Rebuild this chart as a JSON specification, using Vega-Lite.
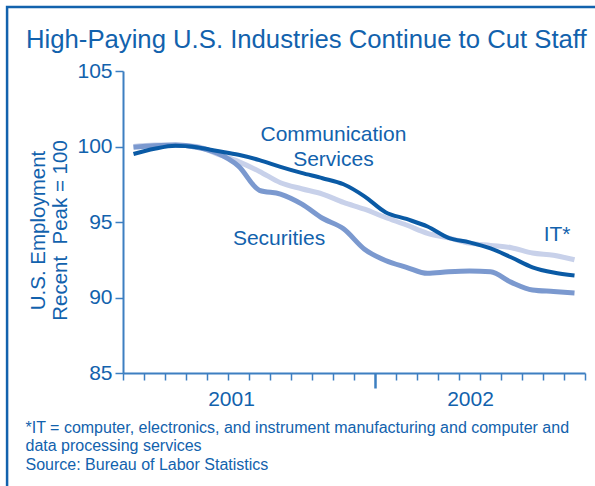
{
  "$schema": "https://vega.github.io/schema/vega-lite/v6.json",
  "width": 462,
  "height": 302,
  "autosize": {"type": "none"},
  "padding": {"left": 123, "top": 71, "right": 10, "bottom": 113},
  "background": "white",
  "config": {"view": {"stroke": null}, "font": "Liberation Sans"},
  "title": {
    "text": "High-Paying U.S. Industries Continue to Cut Staff",
    "anchor": "start",
    "frame": "group",
    "dx": -97,
    "dy": 52,
    "fontSize": 25.7,
    "fontWeight": "normal",
    "font": "Liberation Sans",
    "color": "#1262ad"
  },
  "datasets": {
    "employment": [
      {"month": 1, "series": "IT", "value": 100.0},
      {"month": 2, "series": "IT", "value": 100.1},
      {"month": 3, "series": "IT", "value": 100.1},
      {"month": 4, "series": "IT", "value": 100.0},
      {"month": 5, "series": "IT", "value": 99.5},
      {"month": 6, "series": "IT", "value": 99.0},
      {"month": 7, "series": "IT", "value": 98.35},
      {"month": 8, "series": "IT", "value": 97.6},
      {"month": 9, "series": "IT", "value": 97.2},
      {"month": 10, "series": "IT", "value": 96.85},
      {"month": 11, "series": "IT", "value": 96.3},
      {"month": 12, "series": "IT", "value": 95.85},
      {"month": 13, "series": "IT", "value": 95.3},
      {"month": 14, "series": "IT", "value": 94.8},
      {"month": 15, "series": "IT", "value": 94.25},
      {"month": 16, "series": "IT", "value": 93.95},
      {"month": 17, "series": "IT", "value": 93.6},
      {"month": 18, "series": "IT", "value": 93.45},
      {"month": 19, "series": "IT", "value": 93.3},
      {"month": 20, "series": "IT", "value": 92.95},
      {"month": 21, "series": "IT", "value": 92.8},
      {"month": 22, "series": "IT", "value": 92.5},
      {"month": 1, "series": "Securities", "value": 99.95},
      {"month": 2, "series": "Securities", "value": 100.05},
      {"month": 3, "series": "Securities", "value": 100.1},
      {"month": 4, "series": "Securities", "value": 99.95},
      {"month": 5, "series": "Securities", "value": 99.55},
      {"month": 6, "series": "Securities", "value": 98.7},
      {"month": 7, "series": "Securities", "value": 97.1},
      {"month": 8, "series": "Securities", "value": 96.85},
      {"month": 9, "series": "Securities", "value": 96.2},
      {"month": 10, "series": "Securities", "value": 95.25},
      {"month": 11, "series": "Securities", "value": 94.55},
      {"month": 12, "series": "Securities", "value": 93.2},
      {"month": 13, "series": "Securities", "value": 92.45},
      {"month": 14, "series": "Securities", "value": 92.0},
      {"month": 15, "series": "Securities", "value": 91.6},
      {"month": 16, "series": "Securities", "value": 91.7},
      {"month": 17, "series": "Securities", "value": 91.75},
      {"month": 18, "series": "Securities", "value": 91.7},
      {"month": 19, "series": "Securities", "value": 91.0},
      {"month": 20, "series": "Securities", "value": 90.5},
      {"month": 21, "series": "Securities", "value": 90.4},
      {"month": 22, "series": "Securities", "value": 90.3},
      {"month": 1, "series": "Communication Services", "value": 99.5},
      {"month": 2, "series": "Communication Services", "value": 99.85},
      {"month": 3, "series": "Communication Services", "value": 100.05},
      {"month": 4, "series": "Communication Services", "value": 99.95},
      {"month": 5, "series": "Communication Services", "value": 99.7},
      {"month": 6, "series": "Communication Services", "value": 99.45},
      {"month": 7, "series": "Communication Services", "value": 99.1},
      {"month": 8, "series": "Communication Services", "value": 98.65},
      {"month": 9, "series": "Communication Services", "value": 98.25},
      {"month": 10, "series": "Communication Services", "value": 97.9},
      {"month": 11, "series": "Communication Services", "value": 97.5},
      {"month": 12, "series": "Communication Services", "value": 96.7},
      {"month": 13, "series": "Communication Services", "value": 95.65},
      {"month": 14, "series": "Communication Services", "value": 95.2},
      {"month": 15, "series": "Communication Services", "value": 94.7},
      {"month": 16, "series": "Communication Services", "value": 93.95},
      {"month": 17, "series": "Communication Services", "value": 93.65},
      {"month": 18, "series": "Communication Services", "value": 93.25},
      {"month": 19, "series": "Communication Services", "value": 92.65},
      {"month": 20, "series": "Communication Services", "value": 92.0},
      {"month": 21, "series": "Communication Services", "value": 91.65},
      {"month": 22, "series": "Communication Services", "value": 91.45}
    ],
    "labels": [
      {"label": "Communication", "month": 10.52, "value": 100.73},
      {"label": "Services", "month": 10.52, "value": 99.11},
      {"label": "Securities", "month": 7.93, "value": 93.87},
      {"label": "IT*", "month": 21.17, "value": 94.14}
    ]
  },
  "layer": [
    {
      "data": {"name": "employment"},
      "transform": [{"filter": "datum.series == 'IT'"}],
      "mark": {"type": "line", "interpolate": "monotone", "color": "#c8d1ea", "strokeWidth": 5},
      "encoding": {
        "x": {
          "field": "month",
          "type": "quantitative",
          "scale": {"domain": [0.5, 22.5], "nice": false, "zero": false},
          "axis": {
            "values": [0.5, 1.5, 2.5, 3.5, 4.5, 5.5, 6.5, 7.5, 8.5, 9.5, 10.5, 11.5, 12.5, 13.5, 14.5, 15.5, 16.5, 17.5, 18.5, 19.5, 20.5, 21.5, 22.5],
            "tickCount": 40,
            "labelExpr": "datum.value == 6.5 ? '2001' : (datum.value == 17.5 ? '2002' : '')",
            "labelOffset": {"condition": {"test": "datum.value == 6.5", "value": -18}, "value": -10},
            "labelFontSize": 21,
            "labelColor": "#1262ad",
            "labelPadding": 8,
            "labelFlush": false,
            "labelOverlap": false,
            "labelBound": false,
            "grid": false,
            "domainColor": "#3d7fc1",
            "domainWidth": 2,
            "tickColor": "#3d7fc1",
            "tickSize": {"condition": {"test": "datum.value == 12.5", "value": 15}, "value": 7},
            "tickWidth": {"condition": {"test": "datum.value == 12.5", "value": 2.5}, "value": 1.5},
            "title": ["*IT = computer, electronics, and instrument manufacturing and computer and", "data processing services", "Source: Bureau of Labor Statistics"],
            "titleFontSize": 16,
            "titleFontWeight": "normal",
            "titleColor": "#1262ad",
            "titleAnchor": "start",
            "titleAlign": "left",
            "titleBaseline": "top",
            "titleX": -98,
            "titleY": 46,
            "titleLineHeight": 18.5
          }
        },
        "y": {
          "field": "value",
          "type": "quantitative",
          "scale": {"domain": [85, 105], "nice": false, "zero": false},
          "axis": {
            "values": [85, 90, 95, 100, 105],
            "labelFontSize": 21,
            "labelColor": "#1262ad",
            "labelPadding": 3,
            "grid": false,
            "domainColor": "#3d7fc1",
            "domainWidth": 2,
            "tickColor": "#3d7fc1",
            "tickSize": 8,
            "tickWidth": 1.5,
            "title": ["U.S. Employment", "Recent\u00a0 Peak = 100"],
            "titleFontSize": 20.5,
            "titleFontWeight": "normal",
            "titleColor": "#1262ad",
            "titleLineHeight": 22,
            "titlePadding": 6,
            "titleY": 159
          }
        }
      }
    },
    {
      "data": {"name": "employment"},
      "transform": [{"filter": "datum.series == 'Securities'"}],
      "mark": {"type": "line", "interpolate": "monotone", "color": "#7b99cf", "strokeWidth": 5},
      "encoding": {
        "x": {"field": "month", "type": "quantitative"},
        "y": {"field": "value", "type": "quantitative"}
      }
    },
    {
      "data": {"name": "employment"},
      "transform": [{"filter": "datum.series == 'Communication Services'"}],
      "mark": {"type": "line", "interpolate": "monotone", "color": "#0a5aa5", "strokeWidth": 4},
      "encoding": {
        "x": {"field": "month", "type": "quantitative"},
        "y": {"field": "value", "type": "quantitative"}
      }
    },
    {
      "data": {"name": "labels"},
      "mark": {"type": "text", "fontSize": 21, "color": "#1262ad", "baseline": "middle", "align": "center", "font": "Liberation Sans"},
      "encoding": {
        "x": {"field": "month", "type": "quantitative"},
        "y": {"field": "value", "type": "quantitative"},
        "text": {"field": "label"}
      }
    },
    {
      "data": {"values": [{"frame": "border"}]},
      "mark": {"type": "rect", "fill": "transparent", "stroke": "#1262ad", "strokeWidth": 2.5, "clip": false},
      "encoding": {
        "x": {"datum": -5.02, "type": "quantitative"},
        "x2": {"datum": 40},
        "y": {"datum": 109.24, "type": "quantitative"},
        "y2": {"datum": 60}
      }
    }
  ]
}
